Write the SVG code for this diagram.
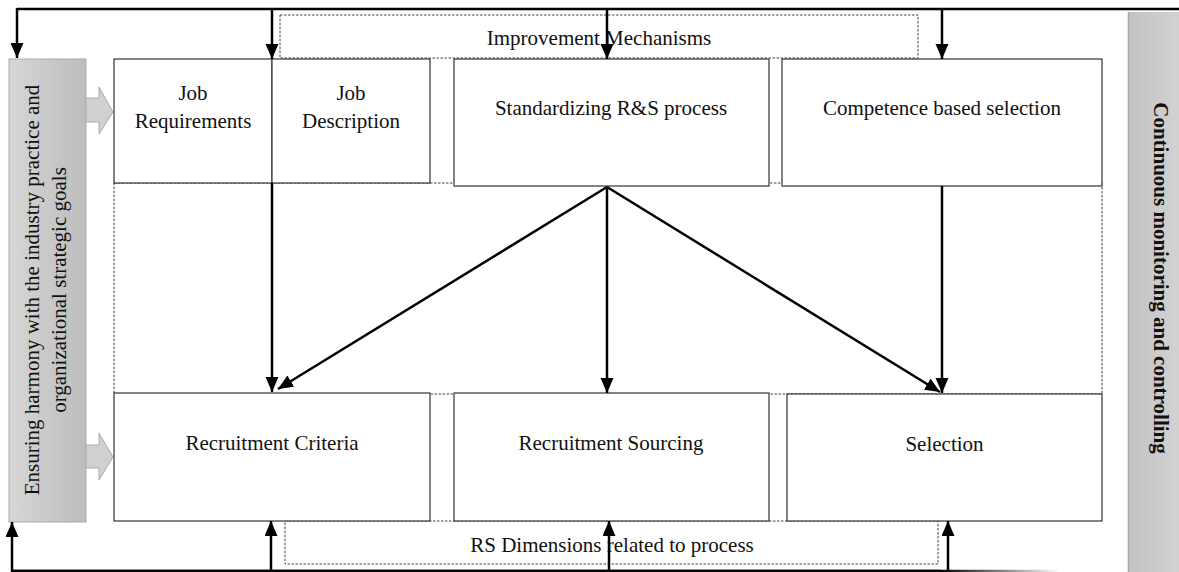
<svg xmlns="http://www.w3.org/2000/svg" width="1179" height="572" viewBox="0 0 1179 572">
<style>
text{font-family:"Liberation Serif","Times New Roman",serif;font-size:21px;fill:#111;text-anchor:middle}
.box{fill:#fff;stroke:#333;stroke-width:1.2}
.dash{fill:none;stroke:#444;stroke-width:1;stroke-dasharray:2.5,1.5}
.con{fill:none;stroke:#000;stroke-width:2.5}
.blk{fill:#d0d0d0;stroke:#aaa;stroke-width:1}
</style>
<defs>
<marker id="ah" markerUnits="userSpaceOnUse" markerWidth="16" markerHeight="14" refX="15" refY="6.5" orient="auto">
<path d="M0,0 L15,6.5 L0,13 z" fill="#000"/>
</marker>
<linearGradient id="gl" x1="0" y1="0" x2="1" y2="0">
<stop offset="0" stop-color="#d6d6d6"/><stop offset="1" stop-color="#bdbdbd"/>
</linearGradient>
<linearGradient id="gr" x1="0" y1="0" x2="1" y2="0">
<stop offset="0" stop-color="#c2c2c2"/><stop offset="1" stop-color="#d2d2d2"/>
</linearGradient>
<linearGradient id="fade" gradientUnits="userSpaceOnUse" x1="940" y1="0" x2="1060" y2="0">
<stop offset="0" stop-color="#000"/><stop offset="1" stop-color="#fff"/>
</linearGradient>
</defs>

<g id="frame">
<rect class="dash" x="114" y="183" width="988" height="211"/>
</g>

<g id="improvement">
<rect class="dash" x="280" y="15" width="638" height="43"/>
<text x="599" y="45">Improvement Mechanisms</text>
</g>

<g id="rsdim">
<rect class="dash" x="285" y="521" width="653" height="43"/>
<text x="612" y="552">RS Dimensions related to process</text>
</g>

<g id="harmony">
<rect x="9" y="59" width="77" height="463" fill="url(#gl)" stroke="#aaa" stroke-width="1"/>
<text transform="translate(39,290) rotate(-90)">Ensuring harmony with the industry practice and</text>
<text transform="translate(66,290) rotate(-90)">organizational strategic goals</text>
<path class="blk" d="M86,98 H99 V87 L113,112 L99,134 V122 H86 z"/>
<path class="blk" d="M86,445 H99 V433 L113,457 L99,480 V468 H86 z"/>
</g>

<g id="monitoring">
<rect x="1128" y="12" width="51" height="560" fill="url(#gr)"/>
<line x1="1128.5" y1="12" x2="1128.5" y2="572" stroke="#a8a8a8" stroke-width="1.5"/>
<text transform="translate(1154,278) rotate(90)" font-weight="bold">Continuous monitoring and controlling</text>
</g>

<g id="jobreq">
<rect class="box" x="114" y="59" width="158" height="124"/>
<text x="193" y="100">Job</text>
<text x="193" y="128">Requirements</text>
</g>

<g id="jobdesc">
<rect class="box" x="272" y="59" width="158" height="124"/>
<text x="351" y="100">Job</text>
<text x="351" y="128">Description</text>
</g>

<g id="standardizing">
<rect class="box" x="454" y="59" width="315" height="127"/>
<text x="611" y="115">Standardizing R&amp;S process</text>
</g>

<g id="competence">
<rect class="box" x="782" y="59" width="320" height="127"/>
<text x="942" y="115">Competence based selection</text>
</g>

<g id="criteria">
<rect class="box" x="114" y="393" width="316" height="128"/>
<text x="272" y="450">Recruitment Criteria</text>
</g>

<g id="sourcing">
<rect class="box" x="454" y="393" width="315" height="128"/>
<text x="611" y="450">Recruitment Sourcing</text>
</g>

<g id="selection">
<rect class="box" x="787" y="394" width="315" height="127"/>
<text x="944.5" y="451">Selection</text>
</g>

<g id="connectors">
<line class="con" x1="17" y1="9" x2="1179" y2="9"/>
<line class="con" x1="17" y1="8" x2="17" y2="58" marker-end="url(#ah)"/>
<line class="con" x1="272" y1="9" x2="272" y2="59" marker-end="url(#ah)"/>
<line class="con" x1="607" y1="9" x2="607" y2="59" marker-end="url(#ah)"/>
<line class="con" x1="942" y1="9" x2="942" y2="59" marker-end="url(#ah)"/>

<line x1="12" y1="571" x2="1060" y2="571" stroke="url(#fade)" stroke-width="2.5"/>
<line x1="12" y1="571" x2="940" y2="571" stroke="#000" stroke-width="2.5"/>
<line class="con" x1="12" y1="572" x2="12" y2="522" marker-end="url(#ah)"/>
<line class="con" x1="271" y1="571" x2="271" y2="521" marker-end="url(#ah)"/>
<line class="con" x1="609" y1="571" x2="609" y2="521" marker-end="url(#ah)"/>
<line class="con" x1="948" y1="571" x2="948" y2="521" marker-end="url(#ah)"/>

<line class="con" x1="272" y1="183" x2="272" y2="392" marker-end="url(#ah)"/>
<line class="con" x1="607" y1="187" x2="278" y2="389" marker-end="url(#ah)"/>
<line class="con" x1="607" y1="187" x2="607" y2="393" marker-end="url(#ah)"/>
<line class="con" x1="607" y1="187" x2="940" y2="392" marker-end="url(#ah)"/>
<line class="con" x1="942" y1="186" x2="942" y2="393" marker-end="url(#ah)"/>
</g>
</svg>
